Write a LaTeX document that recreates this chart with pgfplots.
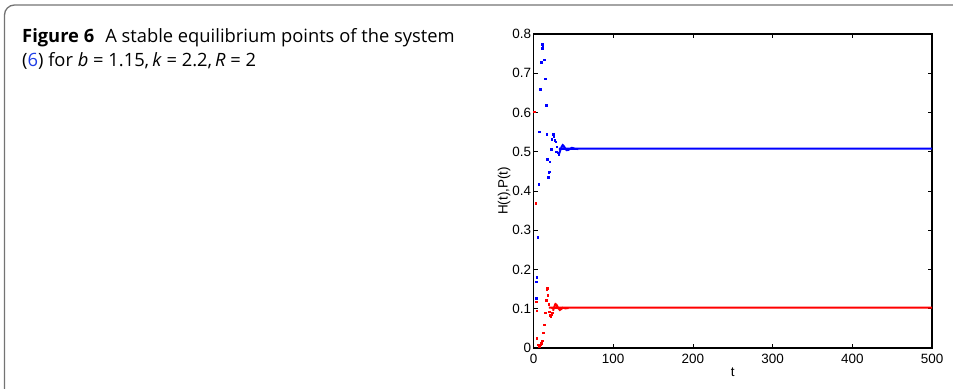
\documentclass[border=0pt]{standalone}
\usepackage{pgfplots}
\pgfplotsset{compat=1.18}
\usepackage{fontspec}
\setmainfont{Open Sans}
\newfontfamily\helv{Liberation Sans}
\definecolor{capblue}{RGB}{30,60,230}
\definecolor{mblue}{RGB}{0,0,255}
\definecolor{mred}{RGB}{255,0,0}

\pgfplotstableread{
t v
3.1 0.127
3.3 0.169
4.0 0.180
5.3 0.282
6.5 0.417
7.3 0.551
8.2 0.659
9.4 0.728
10.6 0.764
11.0 0.774
11.5 0.766
13.2 0.734
14.4 0.686
15.7 0.619
16.6 0.545
17.3 0.481
18.6 0.435
19.0 0.446
19.8 0.449
20.3 0.475
22.0 0.507
22.8 0.532
23.8 0.545
24.8 0.545
25.6 0.540
26.6 0.530
27.9 0.525
28.2 0.500
29.0 0.513
30.2 0.497
31.4 0.492
}\bluedots

\pgfplotstableread{
t v
32 0.494
34 0.506
36.6 0.517
39 0.511
41.6 0.504
44 0.505
48 0.510
52 0.508
56 0.507
60 0.508
500 0.508
}\blueline

\pgfplotstableread{
t v
1.0 0.602
2.7 0.369
3.2 0.118
3.8 0.095
4.2 0.025
5.5 0.009
6.5 0.005
7.5 0.004
8.5 0.008
9.5 0.012
10.7 0.019
12.3 0.039
13.2 0.060
14.4 0.090
15.7 0.122
16.6 0.148
17.0 0.152
18.0 0.135
19.0 0.112
19.6 0.093
20.7 0.084
21.8 0.080
22.5 0.085
23.6 0.090
}\reddots

\pgfplotstableread{
t v
24.5 0.095
27.5 0.112
30 0.106
33 0.097
37 0.103
40 0.101
44 0.102
48 0.103
500 0.103
}\redline

\begin{document}
\begin{tikzpicture}[x=1bp,y=1bp]
\useasboundingbox (0,0) rectangle (953,388);
\draw[draw=black!55, line width=1.3bp] (4.5,-2) -- (4.5,373) arc[start angle=180,end angle=90,radius=10] -- (955,383);
\node[anchor=base west, inner sep=0pt, font=\fontsize{18.4}{24}\selectfont] at (22,346) {\textbf{Figure 6}\hspace{0.6em}A stable equilibrium points of the system};
\node[anchor=base west, inner sep=0pt, font=\fontsize{18.4}{24}\selectfont] at (22,322) {(\textcolor{capblue}{6}) for \textit{b} = 1.15,\,\textit{k} = 2.2,\,\textit{R} = 2};
\begin{axis}[
  at={(533.5bp,40bp)}, anchor=south west,
  scale only axis, width=398.5bp, height=314bp,
  xmin=0, xmax=500, ymin=0, ymax=0.8,
  xtick={0,100,200,300,400,500},
  ytick={0,0.1,0.2,0.3,0.4,0.5,0.6,0.7,0.8},
  yticklabels={0,0.1,0.2,0.3,0.4,0.5,0.6,0.7,0.8},
  tick align=inside, major tick length=4bp,
  tick style={black, line width=0.6bp},
  axis line style={black, line width=1.1bp},
  /pgf/number format/assume math mode=true,
  ticklabel style={font=\helv\fontsize{13.5}{15}\selectfont},
  xticklabel style={yshift=-3bp},
  yticklabel style={xshift=1bp},
  label style={font=\helv\fontsize{13.5}{15}\selectfont},
  xlabel={t}, ylabel={H(t),P(t)},
  xlabel style={yshift=3bp},
  ylabel style={yshift=-5bp},
  clip=false,
]
\addplot[only marks, mark=square*, mark size=0.75bp, mblue, draw=mblue] table[x=t,y=v] {\bluedots};
\addplot[mblue, line width=2bp, smooth] table[x=t,y=v] {\blueline};
\addplot[only marks, mark=square*, mark size=0.75bp, mred, draw=mred] table[x=t,y=v] {\reddots};
\addplot[mred, line width=2bp, smooth] table[x=t,y=v] {\redline};
\end{axis}
\end{tikzpicture}
\end{document}
